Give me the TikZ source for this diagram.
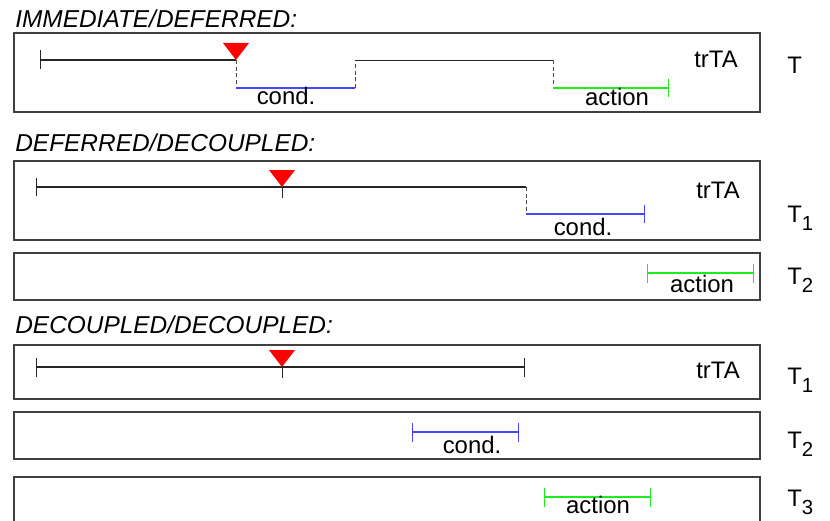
\documentclass[tikz,border=0pt]{standalone}
\usepackage{fontspec}
\setmainfont{Liberation Sans}
\usetikzlibrary{arrows.meta}
\definecolor{condblue}{RGB}{70,70,255}
\definecolor{actgreen}{RGB}{30,235,30}
\newcommand{\tsub}[1]{T\raisebox{-0.36em}{\fontsize{11.6}{12}\selectfont #1}}
\tikzset{
  lane/.style={draw=black!75,line width=0.7pt},
  tline/.style={black!85,line width=0.55pt},
  hop/.style={black!70,line width=0.55pt,dash pattern=on 2.2pt off 1.6pt},
  span/.style={line width=0.6pt,{Bar[width=3.8mm]}-{Bar[width=3.8mm]}},
  endspan/.style={line width=0.6pt,-{Bar[width=3.8mm]}},
  startspan/.style={line width=0.6pt,{Bar[width=3.8mm]}-},
  txt/.style={inner sep=0pt,anchor=base,font=\fontsize{13.6}{16}\selectfont},
  title/.style={txt,anchor=base west,font=\fontsize{13.9}{16}\selectfont\itshape},
  lbl/.style={txt,anchor=base west}
}
\begin{document}
\begin{tikzpicture}[x=0.02cm,y=-0.02cm]
  \clip (0,0) rectangle (830,520);
  \fill[white] (0,0) rectangle (830,520);
  % Immediate/Deferred
  \begin{scope}
    \node[title] (title1) at (15,28) {IMMEDIATE/DEFERRED:};
    \draw[lane] (14,33) rectangle (760,112);
    \draw[tline,startspan] (40,60) -- (236,60);
    \draw[hop] (236,60) -- (236,88);
    \draw[condblue,line width=0.6pt] (236,88) -- (355,88);
    \draw[hop] (355,88) -- (355,60);
    \draw[tline] (355,60) -- (553,60);
    \draw[hop] (553,60) -- (553,88);
    \draw[actgreen,endspan] (553,88) -- (669,88);
    \fill[red] (223,43) -- (249,43) -- (236,60) -- cycle;
    \node[txt] (cond1) at (286,105) {cond.};
    \node[txt] (act1) at (617,106) {action};
    \node[txt] (ta1) at (716,68) {trTA};
    \node[lbl] (t1) at (787,74) {T};
  \end{scope}
  % Deferred/Decoupled
  \begin{scope}
    \node[title] (title2) at (15,152) {DEFERRED/DECOUPLED:};
    \draw[lane] (14,161) rectangle (760,240);
    \draw[lane] (14,253) rectangle (760,300);
    \draw[tline,startspan] (36,187) -- (526,187);
    \draw[tline] (282,187) -- (282,198);
    \draw[hop] (526,187) -- (526,214);
    \draw[condblue,endspan] (526,214) -- (645,214);
    \draw[actgreen,span] (647,273) -- (754,273);
    \fill[red] (269,170) -- (295,170) -- (282,187) -- cycle;
    \node[txt] (cond2) at (583,235) {cond.};
    \node[txt] (ta2) at (718,198) {trTA};
    \node[txt] (act2) at (702,292) {action};
    \node[lbl] (t21) at (787,222) {\tsub{1}};
    \node[lbl] (t22) at (787,284) {\tsub{2}};
  \end{scope}
  % Decoupled/Decoupled
  \begin{scope}
    \node[title] (title3) at (15,333) {DECOUPLED/DECOUPLED:};
    \draw[lane] (14,345) rectangle (760,399);
    \draw[lane] (14,412) rectangle (760,459);
    \draw[lane] (14,477) rectangle (760,540);
    \draw[tline,span] (36,367) -- (525,367);
    \draw[tline] (282,367) -- (282,378);
    \draw[condblue,span] (412,432) -- (519,432);
    \draw[actgreen,span] (544,497) -- (651,497);
    \fill[red] (269,350) -- (295,350) -- (282,367) -- cycle;
    \node[txt] (ta3) at (718,378) {trTA};
    \node[txt] (cond3) at (472,453) {cond.};
    \node[txt] (act3) at (598,513) {action};
    \node[lbl] (t31) at (787,384) {\tsub{1}};
    \node[lbl] (t32) at (787,448) {\tsub{2}};
    \node[lbl] (t33) at (787,506) {\tsub{3}};
  \end{scope}
\end{tikzpicture}
\end{document}
